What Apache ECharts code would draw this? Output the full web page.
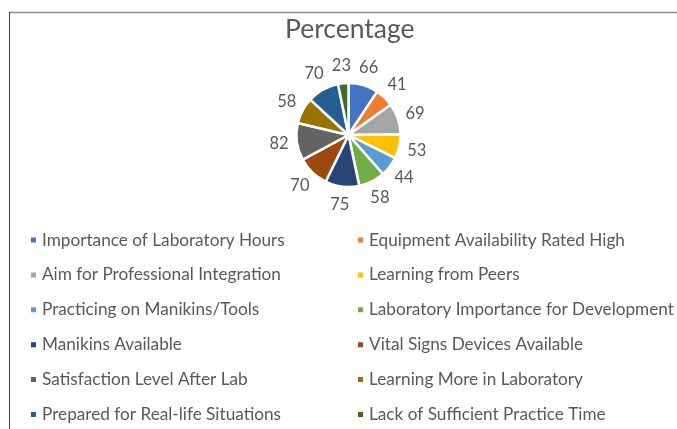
<!DOCTYPE html>
<html>
<head>
    <meta charset="utf-8">
    <title>Percentage</title>
    <script src="https://cdn.jsdelivr.net/npm/echarts@6/dist/echarts.min.js"></script>
    <style>
        body { margin: 0; background: #fff; }
    </style>
</head>
<body>
    <div id="main" style="width: 677px;height:429px;"></div>
    <script type="text/javascript">
        // categories and values
        var categories = [
            'Importance of Laboratory Hours',
            'Equipment Availability Rated High',
            'Aim for Professional Integration',
            'Learning from Peers',
            'Practicing on Manikins/Tools',
            'Laboratory Importance for Development',
            'Manikins Available',
            'Vital Signs Devices Available',
            'Satisfaction Level After Lab',
            'Learning More in Laboratory',
            'Prepared for Real-life Situations',
            'Lack of Sufficient Practice Time'
        ];
        var percentages = [66, 41, 69, 53, 44, 58, 75, 70, 82, 58, 70, 23];
        var colors = ['#4472C4', '#ED7D31', '#A5A5A5', '#FFC000', '#5B9BD5', '#70AD47',
            '#264478', '#9E480E', '#636363', '#997300', '#255E91', '#43682B'];

        var pieData = [];
        for (var i = 0; i < categories.length; i++) {
            pieData.push({ name: categories[i], value: percentages[i] });
        }
        // two legend columns: even items left, odd items right
        var leftCol = categories.filter(function (c, i) { return i % 2 === 0; });
        var rightCol = categories.filter(function (c, i) { return i % 2 === 1; });

        var txt = '#595959';
        var font = 'Lato';
        var legendBase = {
            orient: 'vertical',
            top: 230,
            height: 250,
            padding: 0,
            icon: 'rect',
            itemWidth: 7,
            itemHeight: 7,
            itemGap: 14.9,
            selectedMode: false,
            textStyle: { color: txt, fontFamily: font, fontSize: 17.2, lineHeight: 20 }
        };

        var myChart = echarts.init(document.getElementById('main'));
        var option = {
            backgroundColor: '#fff',
            color: colors,
            animation: false,
            title: {
                text: 'Percentage',
                left: 285,
                top: 16,
                padding: 0,
                textStyle: { color: txt, fontFamily: font, fontSize: 26.5, fontWeight: 'normal' }
            },
            legend: [
                Object.assign({}, legendBase, { left: 29, data: leftCol }),
                Object.assign({}, legendBase, { left: 356, data: rightCol })
            ],
            graphic: [
                { type: 'line', shape: { x1: 9, y1: 12.5, x2: 677, y2: 12.5 }, style: { stroke: '#8c8c8c', lineWidth: 1.5 } },
                { type: 'line', shape: { x1: 9.5, y1: 12, x2: 9.5, y2: 429 }, style: { stroke: '#404040', lineWidth: 1 } }
            ],
            series: [{
                name: 'Percentage',
                type: 'pie',
                center: [348.5, 135],
                radius: 52,
                startAngle: 90,
                clockwise: true,
                avoidLabelOverlap: false,
                itemStyle: { borderColor: '#fff', borderWidth: 2.5 },
                label: {
                    show: true,
                    position: 'outside',
                    formatter: '{c}',
                    color: txt,
                    fontFamily: font,
                    fontSize: 16.5
                },
                labelLine: { show: true, length: 10, length2: 0, lineStyle: { opacity: 0 } },
                labelLayout: function (p) {
                    var pts = p.labelLinePoints;
                    if (!pts) return {};
                    var dx = pts[1][0] - pts[0][0], dy = pts[1][1] - pts[0][1];
                    var d = Math.sqrt(dx * dx + dy * dy) || 1;
                    return {
                        x: pts[1][0] + dx / d * 8,
                        y: pts[1][1] + dy / d * 8,
                        align: 'center',
                        verticalAlign: 'middle'
                    };
                },
                emphasis: { disabled: true },
                data: pieData
            }]
        };
        myChart.setOption(option);
    </script>
</body>
</html>
